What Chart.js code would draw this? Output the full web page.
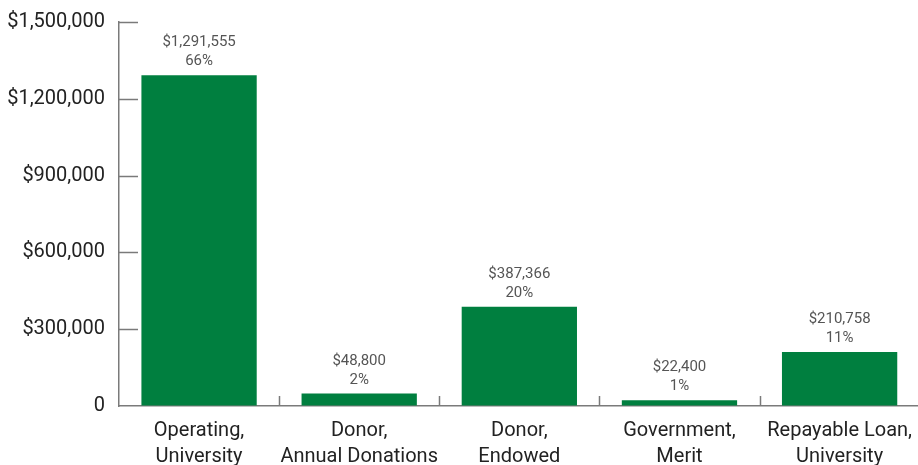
<!DOCTYPE html>
<html>
<head>
<meta charset="utf-8">
<script src="https://cdn.jsdelivr.net/npm/chart.js@4/dist/chart.umd.min.js"></script>
<style>
  html, body { margin: 0; padding: 0; background: #fff; overflow: hidden; }
  #wrap { width: 924px; height: 465px; position: relative; }
</style>
</head>
<body>
<div id="wrap"><canvas id="c"></canvas></div>
<script>
const categories = [
  ["Operating,", "University"],
  ["Donor,", "Annual Donations"],
  ["Donor,", "Endowed"],
  ["Government,", "Merit"],
  ["Repayable Loan,", "University"]
];
const amounts = [1291555, 48800, 387366, 22400, 210758];
const percentLabels = ["66%", "2%", "20%", "1%", "11%"];
const yTicks = [0, 300000, 600000, 900000, 1200000, 1500000];

const FONT = "Roboto, 'DejaVu Sans', sans-serif";
const AXIS_COLOR = "#7a7a7a";

function fmtMoney(v) {
  return "$" + v.toLocaleString("en-US");
}

const innerTicks = {
  id: "innerTicks",
  afterDraw(chart) {
    const { ctx, scales: { x, y }, chartArea } = chart;
    ctx.save();
    ctx.strokeStyle = AXIS_COLOR;
    ctx.lineWidth = 1.5;
    yTicks.forEach(v => {
      if (v === 0) return;
      const py = Math.round(y.getPixelForValue(v)) + 0.5;
      ctx.beginPath();
      ctx.moveTo(chartArea.left, py);
      ctx.lineTo(chartArea.left + 19, py);
      ctx.stroke();
    });
    for (let i = 1; i < categories.length; i++) {
      const px = Math.round((x.getPixelForValue(i - 1) + x.getPixelForValue(i)) / 2) + 0.5;
      ctx.beginPath();
      ctx.moveTo(px, chartArea.bottom);
      ctx.lineTo(px, chartArea.bottom - 10);
      ctx.stroke();
    }
    const meta = chart.getDatasetMeta(0);
    ctx.fillStyle = "#555";
    ctx.font = "15px " + FONT;
    ctx.textAlign = "center";
    ctx.textBaseline = "alphabetic";
    meta.data.forEach((bar, i) => {
      ctx.fillText(percentLabels[i], bar.x, bar.y - 10);
      ctx.fillText(fmtMoney(amounts[i]), bar.x, bar.y - 29);
    });
    ctx.restore();
  }
};

new Chart(document.getElementById("c"), {
  type: "bar",
  data: {
    labels: categories,
    datasets: [{
      data: amounts,
      backgroundColor: "#007f3f",
      borderWidth: 0,
      categoryPercentage: 1.0,
      barPercentage: 0.72
    }]
  },
  options: {
    responsive: true,
    maintainAspectRatio: false,
    animation: false,
    devicePixelRatio: 1,
    layout: { padding: { top: 22, right: 0, left: 0, bottom: 0 } },
    plugins: { legend: { display: false }, tooltip: { enabled: false } },
    scales: {
      x: {
        grid: { display: false, drawTicks: false },
        border: { display: true, color: AXIS_COLOR, width: 1.5 },
        ticks: {
          color: "#222",
          font: { family: FONT, size: 20, lineHeight: 1.3 },
          padding: 12,
          maxRotation: 0,
          autoSkip: false
        },
        afterFit(scale) { scale.height = 59; }
      },
      y: {
        min: 0,
        max: 1500000,
        afterBuildTicks(scale) { scale.ticks = yTicks.map(v => ({ value: v })); },
        grid: {
          display: true,
          drawOnChartArea: false,
          drawTicks: true,
          tickLength: 14,
          tickColor: "rgba(0,0,0,0)"
        },
        border: { display: true, color: AXIS_COLOR, width: 1.5 },
        ticks: {
          color: "#222",
          font: { family: FONT, size: 20 },
          padding: 0,
          callback: v => v === 0 ? "0" : fmtMoney(v)
        },
        afterFit(scale) { scale.width = 119; }
      }
    }
  },
  plugins: [innerTicks]
});
</script>
</body>
</html>
